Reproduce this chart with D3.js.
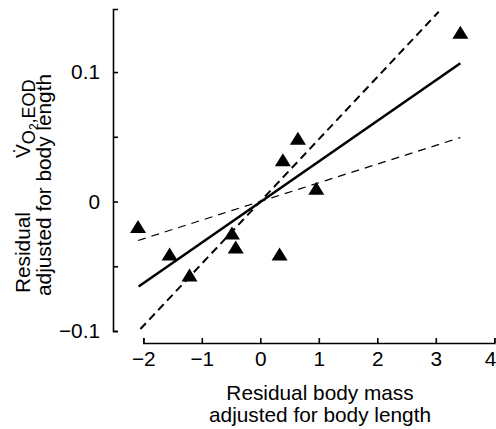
<!DOCTYPE html>
<html><head><meta charset="utf-8">
<script src="https://cdn.jsdelivr.net/npm/d3@7"></script>
<style>
html,body{margin:0;padding:0;background:#fff;}
svg{display:block;}
text{font-family:"Liberation Sans", Arial, Helvetica, sans-serif;fill:#000;}
</style></head>
<body>
<script>
// Data
const xVals = [3.42, -2.09, -1.55, -1.21, -0.485, -0.42, 0.33, 0.957, 0.643, 0.386];
const yVals = [0.1307, -0.0193, -0.0406, -0.0567, -0.0244, -0.0352, -0.0406, 0.0103, 0.0489, 0.0322];
const solidLine = [[-2.08, -0.0656], [3.42, 0.1068]];
const steepDashed = [[-2.05, -0.0985], [3.05, 0.1466]];
const shallowDashed = [[-2.09, -0.0301], [3.42, 0.0494]];
const xTicks = [-2, -1, 0, 1, 2, 3, 4];
const yTicks = [-0.1, -0.05, 0, 0.05, 0.1];
const yTickLabels = ["\u22120.1", "", "0", "", "0.1"];
const xTickLabels = ["\u22122", "\u22121", "0", "1", "2", "3", "4"];

const W = 496, H = 429;
const svg = d3.select("body").append("svg").attr("width", W).attr("height", H);

const x = d3.scaleLinear().domain([-2, 4]).range([143.3, 494.3]);
const y = d3.scaleLinear().domain([-0.1, 0.1487]).range([331, 9]);
const FS = 20.8;

// Y axis
const yAxis = d3.axisLeft(y).tickValues(yTicks)
  .tickFormat((d, i) => yTickLabels[i])
  .tickSizeInner(-5).tickSizeOuter(-5).tickPadding(13);
const gy = svg.append("g").attr("transform", "translate(113,0)").call(yAxis);
gy.selectAll("path,line").attr("stroke", "#000").attr("stroke-width", 1.6);
gy.selectAll("text").attr("font-size", FS).attr("font-family", "Liberation Sans, Arial, sans-serif");

// X axis
const xAxis = d3.axisBottom(x).tickValues(xTicks)
  .tickFormat((d, i) => xTickLabels[i])
  .tickSizeInner(-5).tickSizeOuter(-5).tickPadding(8.5);
const gx = svg.append("g").attr("transform", "translate(0,343)").call(xAxis);
gx.selectAll("path,line").attr("stroke", "#000").attr("stroke-width", 1.6);
gx.selectAll("text").attr("font-size", FS).attr("font-family", "Liberation Sans, Arial, sans-serif");
// keep last label inside the picture
gx.selectAll(".tick").filter(d => d === 4).select("text")
  .attr("text-anchor", "end").attr("x", 1.5);

// Lines
const line = d3.line().x(d => x(d[0])).y(d => y(d[1]));
svg.append("path").attr("d", line(shallowDashed)).attr("fill", "none")
  .attr("stroke", "#000").attr("stroke-width", 1.2).attr("stroke-dasharray", "8,6");
svg.append("path").attr("d", line(steepDashed)).attr("fill", "none")
  .attr("stroke", "#000").attr("stroke-width", 2).attr("stroke-dasharray", "8,5");
svg.append("path").attr("d", line(solidLine)).attr("fill", "none")
  .attr("stroke", "#000").attr("stroke-width", 2.6);

// Triangles
const tri = "M0,-6.5L8,6.5L-8,6.5Z";
svg.append("g").selectAll("path").data(xVals).join("path")
  .attr("d", tri)
  .attr("transform", (d, i) => `translate(${x(d)},${y(yVals[i])})`)
  .attr("fill", "#000");

// X label
const xl = svg.append("text").attr("text-anchor", "middle").attr("font-size", FS);
xl.append("tspan").attr("x", 320).attr("y", 400).text("Residual body mass");
xl.append("tspan").attr("x", 320).attr("y", 421.7).text("adjusted for body length");

// Y label
const yl1 = svg.append("text").attr("transform", "translate(30,0) rotate(-90)").attr("font-size", FS);
yl1.append("tspan").attr("x", -293).text("Residual");
yl1.append("tspan").attr("x", -158).text("V\u0307");
yl1.append("tspan").attr("dy", 5).attr("font-size", 18).text("O");
yl1.append("tspan").attr("dy", 3).attr("font-size", 12).text("2");
yl1.append("tspan").attr("dy", -3).attr("font-size", 18).text(",EOD");

svg.append("text").attr("transform", "translate(51,0) rotate(-90)")
  .attr("font-size", FS).attr("text-anchor", "middle")
  .attr("x", -185).text("adjusted for body length");
</script>
</body></html>
